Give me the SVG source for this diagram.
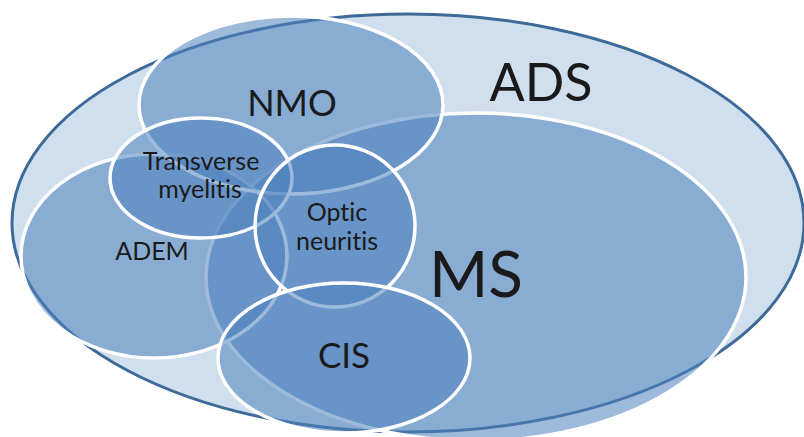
<svg xmlns="http://www.w3.org/2000/svg" width="804" height="437" viewBox="0 0 804 437">
<style>
.set{fill:#4f81bd;fill-opacity:0.55;stroke:#ffffff;stroke-width:3.5}
.lbl{font-family:Lato,"Open Sans","Liberation Sans",sans-serif;fill:#1a1a1a;text-anchor:middle;font-variant-ligatures:none;font-feature-settings:"liga" 0}
</style>
<rect width="804" height="437" fill="#ffffff"/>
<g id="ADS">
<ellipse cx="408" cy="223" rx="396" ry="209" fill="#d0dfed" stroke="#3d6a98" stroke-width="3"/>
<text class="lbl" x="541" y="101" font-size="52">ADS</text>
</g>
<g id="MS">
<ellipse class="set" cx="476" cy="277" rx="270" ry="164"/>
</g>
<g id="ADEM">
<ellipse class="set" cx="154" cy="256" rx="133" ry="102"/>
</g>
<g id="NMO">
<ellipse class="set" cx="291" cy="105" rx="152" ry="89"/>
</g>
<g id="TM">
<ellipse class="set" cx="201" cy="178" rx="91" ry="60"/>
</g>
<g id="ON">
<ellipse class="set" cx="335" cy="226" rx="80" ry="81"/>
</g>
<g id="CIS">
<ellipse class="set" cx="344" cy="358" rx="126" ry="75"/>
</g>
<g id="labels">
<text class="lbl" x="292" y="116" font-size="36">NMO</text>
<text class="lbl" x="201" y="170" font-size="25">Transverse</text>
<text class="lbl" x="200" y="198" font-size="25">myelitis</text>
<text class="lbl" x="152" y="260" font-size="25">ADEM</text>
<text class="lbl" x="337" y="221" font-size="25">Optic</text>
<text class="lbl" x="337" y="250" font-size="25">neuritis</text>
<text class="lbl" x="476" y="297" font-size="64">MS</text>
<text class="lbl" x="344" y="368" font-size="35">CIS</text>
</g>
</svg>
